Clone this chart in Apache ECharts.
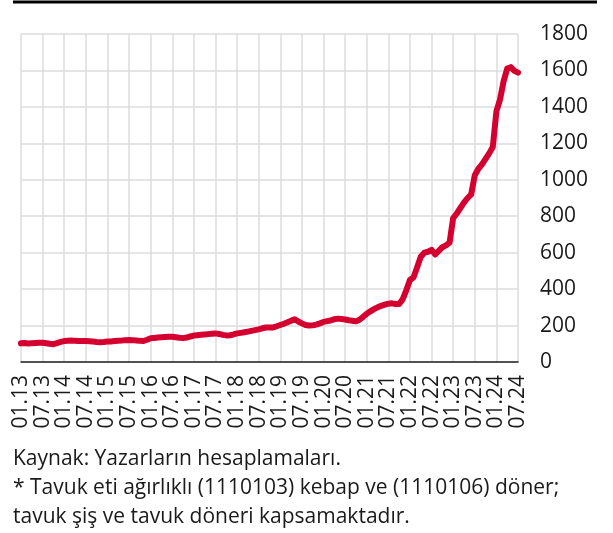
<!DOCTYPE html>
<html lang="tr">
<head>
    <meta charset="UTF-8">
    <title>Tavuk döner fiyatı</title>
    <script src="https://cdn.jsdelivr.net/npm/echarts@6/dist/echarts.min.js"></script>
    <style>
        html, body { margin: 0; padding: 0; background: #fff; }
        #main { width: 613px; height: 533px; }
    </style>
</head>
<body>
<div id="main"></div>
<script>
    // aylık endeks, 01.13 - 07.24
    var values = [
        103, 104, 102, 103, 104, 105,
        106, 103, 100, 98, 104, 110,
        115, 117, 118, 116, 115, 115,
        115, 114, 112, 110, 109, 110,
        112, 113, 115, 117, 118, 120,
        121, 120, 118, 116, 115, 122,
        130, 132, 134, 136, 137, 138,
        139, 136, 133, 131, 134, 140,
        145, 147, 149, 151, 153, 155,
        157, 154, 149, 146, 147, 151,
        157, 160, 163, 167, 171, 175,
        179, 185, 189, 190, 190, 196,
        203, 210, 218, 226, 234, 222,
        212, 203, 200, 201, 205, 212,
        220, 224, 228, 235, 238, 236,
        233, 229, 226, 223, 232, 248,
        265, 278, 290, 300, 308, 315,
        320, 322, 318, 318, 345, 395,
        450, 465, 520, 578, 600, 605,
        615, 590, 610, 630, 640, 655,
        790, 815, 845, 875, 900, 920,
        1025, 1060, 1085, 1115, 1145, 1180,
        1375, 1440, 1540, 1610, 1618, 1598, 1588
    ];
    var firstYear = 13;
    var yTicks = [0, 1800, 200]; // min, max, interval
    var notes = [
        'Kaynak: Yazarların hesaplamaları.',
        '* Tavuk eti ağırlıklı (1110103) kebap ve (1110106) döner;',
        'tavuk şiş ve tavuk döneri kapsamaktadır.'
    ];

    // ay etiketleri: "01.13", "02.13", ...
    var months = [];
    for (var i = 0; i < values.length; i++) {
        var mm = (i % 12) + 1;
        var yy = firstYear + Math.floor(i / 12);
        months.push((mm < 10 ? '0' + mm : '' + mm) + '.' + yy);
    }

    var font = "'Open Sans', 'DejaVu Sans', sans-serif";
    var textColor = '#1a1a1a';
    var gridColor = '#dcdcdc';

    var chart = echarts.init(document.getElementById('main'), null, {renderer: 'canvas'});
    chart.setOption({
        animation: false,
        grid: {left: 21, right: 95, top: 34, bottom: 171, containLabel: false},
        xAxis: {
            type: 'category',
            data: months,
            boundaryGap: false,
            axisLine: {lineStyle: {color: '#222', width: 1.5}},
            axisTick: {show: false},
            axisLabel: {
                interval: 5,
                rotate: 90,
                margin: 13,
                showMinLabel: true,
                showMaxLabel: true,
                hideOverlap: false,
                color: textColor,
                fontFamily: font,
                fontSize: 21,
                lineHeight: 14
            },
            splitLine: {show: true, interval: 5, lineStyle: {color: gridColor, width: 1.5}}
        },
        yAxis: {
            type: 'value',
            position: 'right',
            min: yTicks[0],
            max: yTicks[1],
            interval: yTicks[2],
            axisLine: {show: false},
            axisTick: {show: false},
            axisLabel: {
                margin: 22,
                color: textColor,
                fontFamily: font,
                fontSize: 21,
                formatter: function (v) { return String(v); }
            },
            splitLine: {lineStyle: {color: gridColor, width: 1.5}}
        },
        series: [{
            type: 'line',
            data: values,
            showSymbol: false,
            lineStyle: {color: '#d4002f', width: 6, join: 'round', cap: 'round'},
            z: 5
        }],
        graphic: [
            {
                type: 'line',
                shape: {x1: 13, y1: 2, x2: 597, y2: 2},
                style: {stroke: '#000', lineWidth: 3}
            },
            {
                type: 'text', left: 13, top: 449,
                style: {text: notes[0], fill: textColor, font: '21px ' + font}
            },
            {
                type: 'text', left: 13, top: 478,
                style: {text: notes[1], fill: textColor, font: '21px ' + font}
            },
            {
                type: 'text', left: 13, top: 507,
                style: {text: notes[2], fill: textColor, font: '21px ' + font}
            }
        ]
    });
</script>
</body>
</html>
